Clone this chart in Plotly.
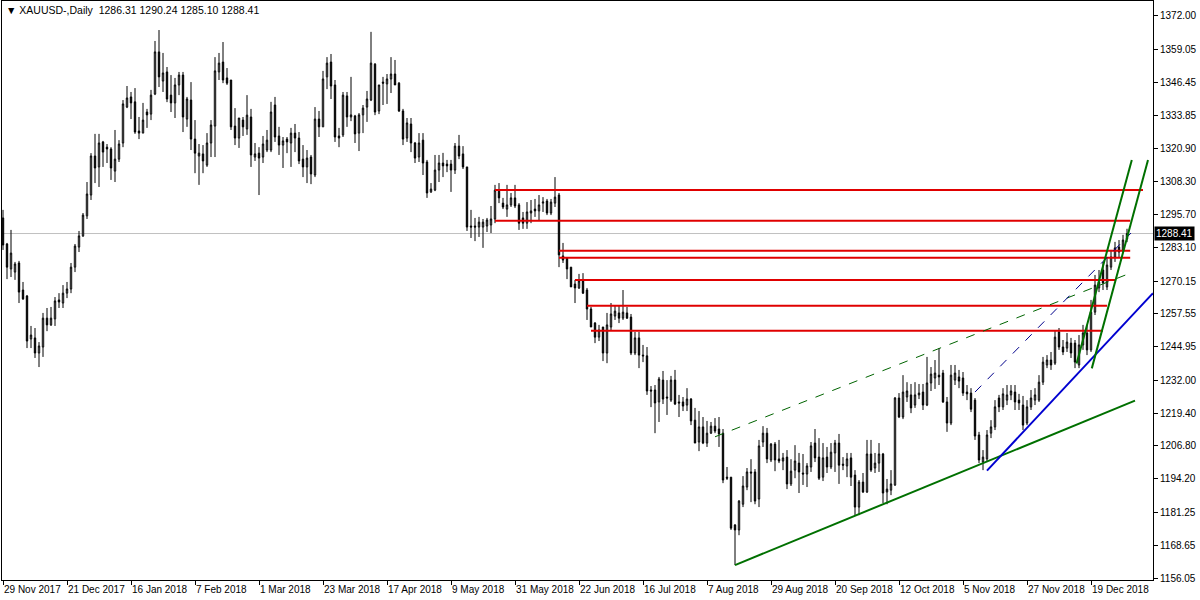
import plotly.graph_objects as go

# ---------------- data ----------------
bar_index = list(range(282))

open_ = [1294.4,1284.4,1274.8,1273.6,1277.1,1266.7,1264.4,1247.9,1248.3,1242.5,
1244.8,1255.9,1253.3,1255.6,1262.9,1261.7,1265.5,1267.1,1275.5,1283.2,
1287.5,1295.2,1303.2,1318.2,1314.0,1323.6,1321.6,1320.9,1312.4,1317.0,
1323.2,1337.0,1340.9,1339.0,1327.8,1327.0,1335.1,1334.3,1342.0,1358.2,
1347.0,1350.5,1341.6,1338.6,1345.5,1349.3,1332.4,1339.7,1324.7,1318.2,
1319.0,1314.7,1323.2,1329.7,1350.5,1354.3,1348.2,1347.4,1329.7,1325.1,
1332.0,1328.6,1333.2,1317.8,1319.3,1317.8,1320.5,1320.5,1337.8,1325.9,
1322.4,1324.7,1323.2,1327.0,1325.1,1317.0,1314.0,1317.8,1310.9,1332.4,
1329.4,1348.6,1354.3,1345.5,1325.9,1326.3,1341.3,1333.2,1333.6,1327.0,
1334.0,1337.0,1339.7,1353.5,1335.5,1346.6,1345.9,1347.8,1349.7,1346.2,
1335.5,1325.1,1330.5,1323.2,1317.8,1324.3,1315.9,1304.4,1305.1,1312.8,
1315.5,1315.1,1315.1,1312.8,1322.0,1319.0,1314.0,1291.3,1291.3,1290.9,
1290.9,1291.3,1291.7,1294.0,1304.7,1300.1,1297.8,1299.4,1302.1,1299.4,
1294.4,1292.4,1296.3,1297.8,1297.1,1300.1,1300.9,1296.3,1300.1,1303.2,
1279.8,1279.0,1275.5,1269.0,1267.5,1270.2,1266.7,1259.4,1254.0,1248.6,
1252.5,1242.5,1252.5,1256.7,1257.9,1255.9,1257.9,1256.3,1242.5,1248.3,
1241.7,1241.4,1228.3,1228.3,1223.7,1232.1,1225.6,1224.4,1232.1,1223.7,
1223.7,1222.5,1224.8,1216.7,1208.3,1214.1,1207.9,1211.7,1214.4,1213.3,
1211.7,1194.8,1194.8,1176.4,1174.5,1184.4,1191.0,1196.8,1196.8,1186.4,
1208.3,1211.7,1201.4,1207.5,1201.8,1201.0,1202.5,1192.2,1197.5,1200.2,
1196.4,1196.0,1198.7,1207.9,1202.5,1194.8,1202.5,1198.7,1204.1,1207.9,
1199.8,1199.1,1202.2,1195.6,1183.3,1192.9,1189.1,1203.7,1198.3,1200.2,
1203.7,1189.1,1189.8,1191.8,1225.2,1217.9,1225.6,1226.4,1222.5,1226.4,
1227.5,1222.5,1231.0,1232.9,1234.0,1234.8,1223.7,1215.6,1232.1,1233.3,
1232.9,1227.5,1227.1,1224.4,1211.0,1200.6,1201.8,1211.7,1214.1,1225.2,
1221.8,1224.4,1226.4,1227.5,1224.4,1222.5,1215.6,1221.8,1224.4,1224.4,
1231.3,1237.9,1239.8,1238.6,1250.6,1244.8,1244.4,1246.3,1246.3,1237.9,
1245.6,1250.2,1243.7,1258.2,1267.5,1274.4,1267.9,1275.5,1279.4,1283.2,
1282.1,1286.31]

high = [1297.5,1284.8,1289.8,1277.5,1277.9,1269.8,1264.8,1252.9,1252.1,1246.7,
1257.9,1259.8,1260.2,1264.0,1265.5,1268.6,1269.8,1277.1,1284.4,1289.4,
1296.3,1308.2,1319.3,1326.7,1326.7,1324.0,1322.8,1321.6,1328.2,1324.3,
1339.7,1345.1,1342.8,1344.3,1333.2,1338.6,1336.3,1343.6,1362.4,1366.6,
1357.8,1352.4,1349.3,1348.2,1350.5,1350.5,1340.9,1346.6,1332.0,1322.8,
1322.4,1327.0,1332.0,1356.2,1357.8,1362.0,1352.0,1347.4,1336.6,1332.8,
1333.2,1341.6,1336.3,1323.2,1321.6,1325.9,1328.2,1339.0,1340.9,1329.4,
1325.5,1325.5,1329.0,1330.5,1327.4,1322.4,1320.5,1318.6,1337.0,1335.5,
1350.9,1356.2,1357.4,1347.4,1329.0,1342.8,1342.8,1348.6,1334.0,1334.7,
1337.8,1343.2,1365.9,1353.9,1345.5,1348.6,1349.7,1356.2,1355.1,1346.6,
1336.3,1332.8,1332.8,1323.6,1327.0,1327.0,1316.7,1307.8,1318.6,1318.6,
1319.4,1316.7,1316.7,1323.2,1326.3,1322.0,1314.0,1297.5,1294.4,1294.8,
1294.0,1294.4,1299.0,1307.1,1307.8,1302.1,1307.1,1304.0,1307.1,1300.1,
1296.7,1300.5,1301.3,1301.7,1303.2,1302.4,1301.7,1301.7,1310.1,1304.0,
1284.8,1279.4,1275.5,1270.6,1272.9,1273.2,1267.5,1260.2,1254.4,1253.3,
1252.5,1257.9,1261.7,1260.9,1260.9,1266.7,1260.2,1257.5,1250.6,1250.6,
1245.6,1244.8,1229.8,1230.2,1233.3,1235.6,1232.1,1233.7,1236.0,1226.4,
1225.6,1229.0,1225.2,1221.4,1220.2,1217.9,1216.4,1216.0,1217.5,1217.9,
1213.3,1198.7,1194.8,1176.8,1186.0,1195.2,1198.3,1201.7,1197.9,1209.1,
1214.4,1213.7,1207.9,1208.3,1209.1,1204.1,1205.2,1201.7,1207.1,1204.1,
1203.7,1200.2,1208.3,1213.3,1209.8,1207.9,1206.4,1207.9,1209.1,1211.4,
1202.5,1204.1,1204.1,1197.5,1193.7,1196.4,1209.1,1209.1,1204.1,1207.9,
1204.1,1194.1,1197.5,1225.6,1227.1,1234.0,1231.3,1230.6,1231.3,1230.6,
1230.6,1241.0,1237.1,1239.8,1244.4,1236.0,1225.6,1237.9,1237.9,1236.0,
1235.2,1230.2,1229.0,1225.2,1212.2,1205.2,1212.9,1216.7,1224.4,1226.4,
1229.0,1230.2,1230.2,1230.2,1226.8,1226.0,1224.4,1228.3,1229.0,1234.0,
1241.0,1241.7,1242.9,1251.3,1252.1,1247.5,1250.2,1248.3,1247.5,1249.4,
1253.3,1253.3,1262.9,1272.5,1274.4,1277.5,1279.0,1282.1,1285.2,1285.9,
1287.9,1290.24]

low = [1282.1,1270.9,1271.7,1270.6,1261.7,1262.9,1244.4,1244.4,1240.6,1237.1,
1241.0,1250.9,1252.9,1252.9,1259.8,1259.8,1263.6,1265.5,1273.6,1281.3,
1287.1,1294.0,1301.3,1307.8,1306.3,1314.0,1315.5,1309.0,1308.2,1315.9,
1321.6,1336.6,1332.4,1326.7,1324.7,1327.0,1329.0,1332.0,1341.6,1344.7,
1342.8,1338.9,1335.1,1332.8,1341.6,1327.4,1329.4,1320.5,1311.6,1307.1,
1311.6,1314.0,1317.8,1317.8,1347.4,1346.2,1345.5,1328.2,1322.4,1321.3,
1325.9,1326.3,1314.0,1316.3,1303.2,1315.5,1319.7,1319.7,1323.6,1318.6,
1313.6,1319.3,1314.0,1319.7,1315.1,1310.1,1307.8,1307.4,1310.1,1325.5,
1329.4,1343.9,1340.1,1323.6,1321.6,1325.5,1329.4,1331.6,1323.2,1320.1,
1327.0,1331.3,1339.3,1333.9,1334.3,1337.8,1338.2,1342.4,1345.5,1335.1,
1322.4,1323.6,1319.7,1315.5,1315.9,1310.9,1302.1,1304.0,1304.7,1308.2,
1310.1,1312.0,1304.4,1311.3,1317.0,1313.2,1289.4,1286.7,1285.5,1287.1,
1282.9,1289.0,1288.6,1292.4,1300.1,1297.8,1294.8,1298.6,1298.2,1289.8,
1290.2,1290.2,1292.4,1294.8,1293.6,1296.7,1295.5,1295.5,1298.6,1275.5,
1277.1,1270.9,1267.9,1261.7,1267.1,1265.2,1255.2,1252.5,1246.3,1247.1,
1239.4,1238.6,1251.3,1255.2,1254.0,1255.2,1255.6,1241.7,1241.7,1236.7,
1239.0,1226.4,1221.7,1211.7,1216.0,1222.9,1218.7,1223.7,1222.5,1217.9,
1220.2,1220.2,1214.8,1207.9,1204.8,1207.5,1206.4,1211.4,1211.7,1206.4,
1192.5,1193.7,1174.5,1161.0,1172.5,1183.3,1189.8,1185.2,1184.4,1183.3,
1206.4,1200.2,1200.6,1197.1,1200.2,1197.5,1190.2,1191.4,1194.4,1188.7,
1191.8,1191.0,1196.8,1200.6,1193.7,1193.3,1196.4,1197.9,1196.8,1192.2,
1197.5,1194.8,1191.4,1180.2,1180.2,1188.7,1188.7,1196.8,1196.4,1196.8,
1184.8,1184.4,1187.9,1191.4,1217.5,1217.1,1223.7,1219.4,1221.4,1224.8,
1220.6,1222.1,1227.9,1228.7,1230.2,1223.3,1212.2,1214.8,1230.2,1229.0,
1226.0,1224.4,1219.8,1209.1,1200.2,1197.5,1200.6,1209.8,1212.9,1219.8,
1220.6,1222.5,1224.4,1220.6,1220.6,1212.9,1214.8,1220.6,1222.5,1223.7,
1230.2,1236.7,1236.0,1237.9,1243.7,1241.7,1242.9,1240.6,1236.7,1236.7,
1243.7,1241.7,1242.9,1257.1,1265.9,1266.7,1266.7,1274.4,1277.5,1279.0,
1281.3,1285.10]

close = [1284.0,1275.5,1280.9,1276.7,1265.9,1263.3,1247.1,1249.4,1242.5,1245.2,
1255.9,1253.3,1255.9,1262.5,1262.1,1265.5,1267.1,1275.5,1283.6,1287.5,
1295.5,1303.6,1318.2,1313.6,1323.2,1319.7,1320.9,1313.6,1317.0,1322.8,
1338.2,1340.5,1338.6,1327.4,1327.0,1332.0,1334.0,1341.6,1358.2,1348.6,
1350.1,1340.1,1338.6,1345.5,1349.3,1333.2,1340.1,1324.7,1319.3,1319.3,
1316.3,1323.2,1330.1,1350.9,1353.9,1347.4,1346.2,1329.4,1325.1,1332.8,
1329.4,1333.9,1318.6,1319.0,1317.4,1322.8,1324.3,1335.1,1325.5,1322.4,
1324.0,1323.6,1327.0,1325.1,1316.3,1314.0,1317.4,1311.3,1332.4,1329.4,
1347.8,1353.9,1345.1,1325.5,1325.1,1341.6,1333.2,1334.0,1326.7,1334.0,
1336.6,1340.1,1353.9,1335.1,1345.5,1346.2,1347.8,1349.7,1345.5,1335.5,
1324.7,1330.9,1323.2,1317.4,1323.2,1315.5,1304.0,1305.5,1312.8,1315.5,
1314.4,1314.4,1312.8,1322.0,1318.2,1314.0,1290.9,1290.9,1290.9,1292.8,
1292.8,1293.6,1294.0,1305.1,1302.1,1298.6,1299.4,1302.1,1299.0,1292.4,
1292.4,1296.7,1297.1,1297.1,1299.4,1300.5,1296.3,1300.5,1302.4,1280.2,
1278.2,1274.8,1267.9,1267.5,1270.2,1265.5,1259.4,1252.5,1248.6,1251.3,
1242.5,1253.3,1257.5,1258.6,1255.9,1258.2,1255.9,1242.5,1248.3,1241.7,
1241.4,1227.9,1227.9,1223.3,1232.5,1224.8,1225.2,1232.1,1222.9,1223.3,
1222.1,1224.8,1216.4,1207.9,1214.1,1207.9,1211.7,1214.4,1212.5,1211.4,
1193.7,1194.4,1175.2,1174.5,1185.6,1191.4,1196.8,1196.4,1185.6,1206.8,
1211.7,1201.8,1207.5,1201.4,1201.0,1202.2,1192.2,1197.1,1201.0,1196.8,
1196.0,1199.1,1206.8,1202.2,1194.4,1202.2,1198.7,1204.4,1207.9,1199.4,
1199.4,1201.8,1194.8,1183.3,1192.9,1189.1,1203.7,1197.5,1200.2,1203.7,
1188.7,1190.2,1192.2,1225.2,1217.9,1227.5,1227.9,1221.4,1226.4,1227.1,
1222.5,1231.0,1234.4,1234.8,1233.3,1223.7,1215.6,1234.0,1234.8,1231.7,
1227.1,1226.8,1220.9,1210.6,1201.4,1202.5,1211.0,1214.1,1221.8,1221.8,
1226.8,1226.4,1227.9,1223.7,1223.3,1214.8,1221.8,1225.2,1226.4,1231.3,
1239.0,1239.8,1237.9,1248.6,1244.8,1242.9,1246.7,1242.5,1239.0,1245.6,
1250.2,1243.7,1258.2,1268.6,1269.8,1269.4,1276.3,1279.4,1282.9,1281.3,
1285.9,1288.41]

date_tick_index = [0, 16, 32, 48, 64, 80, 96, 112, 128, 144, 160, 176, 192, 208, 224, 240, 256, 272]
date_tick_labels = ["29 Nov 2017", "21 Dec 2017", "16 Jan 2018", "7 Feb 2018", "1 Mar 2018",
                    "23 Mar 2018", "17 Apr 2018", "9 May 2018", "31 May 2018", "22 Jun 2018",
                    "16 Jul 2018", "7 Aug 2018", "29 Aug 2018", "20 Sep 2018", "12 Oct 2018",
                    "5 Nov 2018", "27 Nov 2018", "19 Dec 2018"]
price_ticks = [1372.00, 1359.05, 1346.45, 1333.85, 1320.90, 1308.30, 1295.70, 1283.10, 1270.15,
               1257.55, 1244.95, 1232.00, 1219.40, 1206.80, 1194.20, 1181.25, 1168.65, 1156.05]

# horizontal support / resistance levels (price, first bar, last bar)
level_price = [1305.1, 1293.3, 1281.8, 1279.1, 1270.6, 1260.7, 1251.1]
level_start = [123, 123, 139, 139, 143, 146, 147]
level_end = [285.0, 281.8, 281.8, 281.8, 278.0, 276.0, 275.0]

# trend lines: (bar, price) end points
green_trend_x = [183, 283]
green_trend_y = [1161.0, 1224.2]
blue_trend_x = [246, 287.5]
blue_trend_y = [1197.3, 1265.5]
green_dash_x = [178, 281]
green_dash_y = [1210.3, 1272.7]
blue_dash_x = [243, 282]
blue_dash_y = [1227.5, 1288.6]
chan_left_x = [268.4, 282.2]
chan_left_y = [1238.5, 1316.7]
chan_right_x = [272.2, 286.25]
chan_right_y = [1236.6, 1316.7]

last_price = 1288.41
title_text = "\u25BC XAUUSD-,Daily  1286.31 1290.24 1285.10 1288.41"

# ---------------- figure ----------------
FONT = "Liberation Sans, DejaVu Sans, sans-serif"

fig = go.Figure()

fig.add_trace(go.Candlestick(
    x=bar_index, open=open_, high=high, low=low, close=close,
    increasing=dict(line=dict(color="black", width=1), fillcolor="white"),
    decreasing=dict(line=dict(color="black", width=1), fillcolor="black"),
    whiskerwidth=0, showlegend=False, hoverinfo="skip",
))

shapes = []
shapes.append(dict(type="line", xref="paper", x0=0, x1=1, yref="y", y0=last_price, y1=last_price,
                   line=dict(color="#c0c0c0", width=1), layer="below"))
for p, s, e in zip(level_price, level_start, level_end):
    shapes.append(dict(type="line", xref="x", yref="y", x0=s, x1=e, y0=p, y1=p,
                       line=dict(color="#e00000", width=2)))

def seg(xs, ys, color, width, dash="solid"):
    return dict(type="line", xref="x", yref="y", x0=xs[0], x1=xs[1], y0=ys[0], y1=ys[1],
                line=dict(color=color, width=width, dash=dash))

shapes.append(seg(green_dash_x, green_dash_y, "#006400", 1, "dash"))
shapes.append(seg(blue_dash_x, blue_dash_y, "#00008b", 1, "dash"))
shapes.append(seg(green_trend_x, green_trend_y, "#007000", 2))
shapes.append(seg(blue_trend_x, blue_trend_y, "#0000d0", 2))
shapes.append(seg(chan_left_x, chan_left_y, "#007000", 2))
shapes.append(seg(chan_right_x, chan_right_y, "#007000", 2))

annotations = [
    dict(xref="paper", yref="paper", x=0.002, y=0.998, xanchor="left", yanchor="top",
         text=title_text, showarrow=False, font=dict(family=FONT, size=10.5, color="black")),
    dict(xref="paper", yref="y", x=1.0, y=last_price, xanchor="left", yanchor="middle",
         text="%.2f" % last_price, showarrow=False, bgcolor="black", borderpad=1,
         font=dict(family=FONT, size=10, color="white"), xshift=1),
]

fig.update_layout(
    width=1200, height=600, autosize=False,
    margin=dict(l=2, r=47, t=1, b=20),
    paper_bgcolor="white", plot_bgcolor="white",
    boxgap=0.5,
    shapes=shapes, annotations=annotations,
    hovermode=False, showlegend=False,
    xaxis=dict(range=[-0.25, 287.5], tickvals=date_tick_index, ticktext=date_tick_labels,
               ticks="outside", ticklen=4, tickcolor="black", ticklabelposition="outside right",
               tickangle=0, automargin=False,
               showgrid=False, zeroline=False, showline=True, linecolor="black", linewidth=1,
               mirror=True, rangeslider=dict(visible=False),
               tickfont=dict(family=FONT, size=10, color="black")),
    yaxis=dict(range=[1155.28, 1377.76], side="right", tickvals=price_ticks,
               ticktext=["%.2f" % v for v in price_ticks], automargin=False,
               ticks="outside", ticklen=4, tickcolor="black",
               showgrid=False, zeroline=False, showline=True, linecolor="black", linewidth=1,
               mirror=True, tickfont=dict(family=FONT, size=10, color="black")),
)

fig.write_html("out.html", config={"displayModeBar": False, "staticPlot": True},
               post_script="document.body.style.margin='0';document.body.style.overflow='hidden';")
